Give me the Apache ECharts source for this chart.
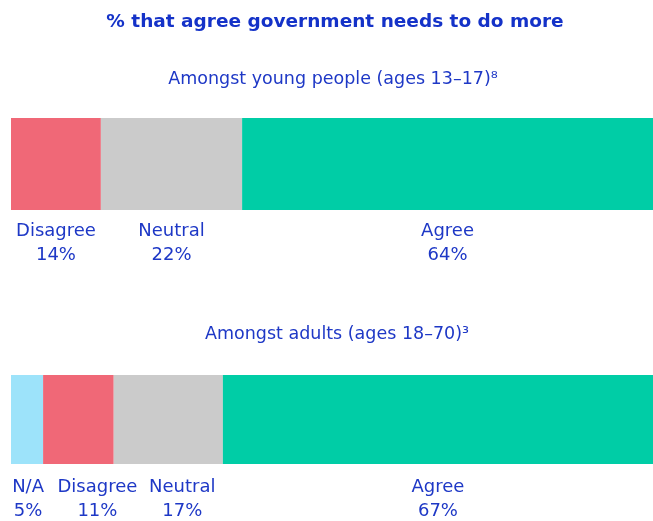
<!DOCTYPE html>
<html><head><meta charset="utf-8">
<script src="https://cdn.jsdelivr.net/npm/echarts@6/dist/echarts.min.js"></script>
<style>html,body{margin:0;padding:0;background:#fff}#c{width:653px;height:521px}</style>
</head><body><div id="c"></div>
<script>
const titleText = '% that agree government needs to do more';
const subtitleYoung = 'Amongst young people (ages 13–17)⁸';
const subtitleAdult = 'Amongst adults (ages 18–70)³';
const youngCategories = ['Disagree', 'Neutral', 'Agree'];
const youngValues = [14, 22, 64];
const adultCategories = ['N/A', 'Disagree', 'Neutral', 'Agree'];
const adultValues = [5, 11, 17, 67];

const colorMap = {'N/A': '#9DE3FA', 'Disagree': '#F06877', 'Neutral': '#CBCBCB', 'Agree': '#00CDA6'};
const adultLabelOffset = {'N/A': [1, 0], 'Disagree': [19, 0], 'Neutral': [14, 0], 'Agree': [0, 0]};
const textColor = '#1E38C6';
const fontFamily = '"DejaVu Sans", sans-serif';

function makeSeries(cats, vals, idx, offsets, dist) {
  return cats.map((c, i) => ({
    name: c, type: 'bar', stack: 's' + idx, xAxisIndex: idx, yAxisIndex: idx,
    barWidth: '100%', data: [vals[i]],
    itemStyle: {color: colorMap[c]},
    label: {
      show: true, position: 'bottom', distance: dist,
      offset: offsets ? offsets[c] : [0, 0],
      formatter: p => p.seriesName + '\n' + p.value + '%',
      color: textColor, fontSize: 18, lineHeight: 24, fontFamily: fontFamily, fontWeight: 'normal'
    }
  }));
}

const chart = echarts.init(document.getElementById('c'), null, {renderer: 'canvas'});
chart.setOption({
  animation: false,
  title: [
    {text: titleText, left: 330, top: 8, textAlign: 'center',
     textStyle: {color: '#1432C8', fontSize: 18.5, fontWeight: 'bold', fontFamily: fontFamily}},
    {text: subtitleYoung, left: 328, top: 65, textAlign: 'center',
     textStyle: {color: textColor, fontSize: 17.5, fontWeight: 'normal', fontFamily: fontFamily}},
    {text: subtitleAdult, left: 332, top: 320, textAlign: 'center',
     textStyle: {color: textColor, fontSize: 17.5, fontWeight: 'normal', fontFamily: fontFamily}}
  ],
  grid: [
    {left: 11, right: 0, top: 118, height: 92},
    {left: 11, right: 0, top: 375, height: 89}
  ],
  xAxis: [
    {type: 'value', gridIndex: 0, min: 0, max: 100, show: false},
    {type: 'value', gridIndex: 1, min: 0, max: 100, show: false}
  ],
  yAxis: [
    {type: 'category', gridIndex: 0, data: ['young'], show: false},
    {type: 'category', gridIndex: 1, data: ['adults'], show: false}
  ],
  series: makeSeries(youngCategories, youngValues, 0, null, 9)
    .concat(makeSeries(adultCategories, adultValues, 1, adultLabelOffset, 11))
});
</script></body></html>
